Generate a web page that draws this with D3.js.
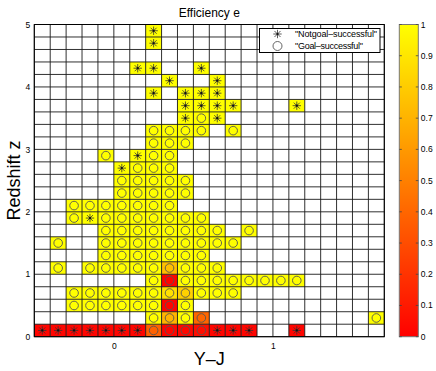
<!DOCTYPE html>
<html>
<head>
<meta charset="utf-8">
<title>Efficiency e</title>
<script src="https://d3js.org/d3.v7.min.js"></script>
<style>
  body, html { margin: 0; padding: 0; background: #fff; }
  svg { display: block; font-family: "Liberation Sans", Arial, sans-serif; }
</style>
</head>
<body>
<svg id="chart" width="436" height="371"></svg>
<script>
// binning of the map
const yjDomain = [-0.5, 1.7];
const zDomain = [0, 5];
const binW = 0.1, binH = 0.2;
const xTickValues = [0, 1];
const yTickValues = [0, 1, 2, 3, 4, 5];
const cbarTicks = [0, 0.1, 0.2, 0.3, 0.4, 0.5, 0.6, 0.7, 0.8, 0.9, 1];
const legendLabels = ['"Notgoal\u2013successful"', '"Goal\u2013successful"'];

// cells [Y-J centre, z centre, efficiency] : "Goal-successful" (circle)
const goalCells = [
  [0.25, 0.1, 0.38], [0.35, 0.1, 0.02], [0.45, 0.1, 0.03], [0.55, 0.1, 0.05],
  [0.25, 0.3, 1], [0.35, 0.3, 0.7], [0.45, 0.3, 1], [0.55, 0.3, 0.4], [1.65, 0.3, 1],
  [-0.25, 0.5, 1], [-0.15, 0.5, 1], [-0.05, 0.5, 1], [0.05, 0.5, 1], [0.15, 0.5, 1], [0.25, 0.5, 1],
  [0.35, 0.5, 0.02], [0.45, 0.5, 1],
  [-0.25, 0.7, 1], [-0.15, 0.7, 1], [-0.05, 0.7, 1], [0.05, 0.7, 1], [0.15, 0.7, 1], [0.25, 0.7, 1],
  [0.35, 0.7, 0.88], [0.45, 0.7, 0.82], [0.55, 0.7, 1], [0.65, 0.7, 1], [0.75, 0.7, 1],
  [0.25, 0.9, 1], [0.35, 0.9, 0.02], [0.45, 0.9, 1], [0.55, 0.9, 1], [0.65, 0.9, 1], [0.75, 0.9, 1],
  [0.85, 0.9, 1], [0.95, 0.9, 1], [1.05, 0.9, 1], [1.15, 0.9, 1],
  [-0.35, 1.1, 1], [-0.15, 1.1, 1], [-0.05, 1.1, 1], [0.05, 1.1, 1], [0.15, 1.1, 1], [0.25, 1.1, 1],
  [0.35, 1.1, 0.75], [0.45, 1.1, 1], [0.55, 1.1, 1], [0.65, 1.1, 1],
  [-0.05, 1.3, 1], [0.05, 1.3, 1], [0.15, 1.3, 1], [0.25, 1.3, 1], [0.35, 1.3, 1], [0.45, 1.3, 1], [0.55, 1.3, 1],
  [-0.35, 1.5, 1], [-0.05, 1.5, 1], [0.05, 1.5, 1], [0.15, 1.5, 1], [0.25, 1.5, 1], [0.35, 1.5, 1],
  [0.45, 1.5, 1], [0.55, 1.5, 1], [0.65, 1.5, 1], [0.75, 1.5, 1],
  [-0.05, 1.7, 1], [0.05, 1.7, 1], [0.15, 1.7, 1], [0.25, 1.7, 1], [0.35, 1.7, 1], [0.45, 1.7, 1],
  [0.55, 1.7, 1], [0.65, 1.7, 1], [0.85, 1.7, 1],
  [-0.25, 1.9, 1], [-0.05, 1.9, 1], [0.05, 1.9, 1], [0.15, 1.9, 1], [0.25, 1.9, 1], [0.35, 1.9, 1],
  [0.45, 1.9, 1], [0.55, 1.9, 1],
  [-0.25, 2.1, 1], [-0.15, 2.1, 1], [-0.05, 2.1, 1], [0.05, 2.1, 1], [0.15, 2.1, 1], [0.25, 2.1, 1], [0.35, 2.1, 1],
  [0.05, 2.3, 1], [0.15, 2.3, 1], [0.25, 2.3, 1], [0.35, 2.3, 1], [0.45, 2.3, 1],
  [0.05, 2.5, 1], [0.15, 2.5, 1], [0.25, 2.5, 1], [0.35, 2.5, 1], [0.45, 2.5, 1],
  [0.15, 2.7, 1], [0.25, 2.7, 1], [0.35, 2.7, 1],
  [-0.05, 2.9, 1], [0.25, 2.9, 1], [0.35, 2.9, 1],
  [0.25, 3.1, 1], [0.35, 3.1, 1], [0.45, 3.1, 1],
  [0.25, 3.3, 1], [0.35, 3.3, 1], [0.45, 3.3, 1], [0.55, 3.3, 1], [0.75, 3.3, 1],
  [0.55, 3.5, 1]
];

// cells [Y-J centre, z centre, efficiency] : "Notgoal-successful" (asterisk)
const notgoalCells = [
  [-0.45, 0.1, 0.02], [-0.35, 0.1, 0.02], [-0.25, 0.1, 0.02], [-0.15, 0.1, 0.02], [-0.05, 0.1, 0.02],
  [0.05, 0.1, 0.02], [0.15, 0.1, 0.02], [0.65, 0.1, 0.02], [0.75, 0.1, 0.02], [0.85, 0.1, 0.02], [1.15, 0.1, 0.02],
  [-0.15, 1.9, 1],
  [0.05, 2.7, 1],
  [0.15, 2.9, 1],
  [0.45, 3.5, 1], [0.65, 3.5, 1],
  [0.45, 3.7, 1], [0.55, 3.7, 1], [0.65, 3.7, 1], [0.75, 3.7, 1], [1.15, 3.7, 1],
  [0.25, 3.9, 1], [0.45, 3.9, 1], [0.55, 3.9, 1], [0.65, 3.9, 1],
  [0.35, 4.1, 1], [0.65, 4.1, 1],
  [0.15, 4.3, 1], [0.25, 4.3, 1], [0.55, 4.3, 1],
  [0.25, 4.7, 1],
  [0.25, 4.9, 1]
];

const svg = d3.select("#chart");
const pLeft = 34.3, pRight = 384.3, pTop = 24.5, pBottom = 336.7;

const x = d3.scaleLinear().domain(yjDomain).range([pLeft, pRight]);
const y = d3.scaleLinear().domain(zDomain).range([pBottom, pTop]);

// MATLAB "autumn" colormap: red -> yellow
const color = v => d3.rgb(255, Math.round(255 * v), 0).toString();

const plot = svg.append("g");

// coloured cells
const allCells = goalCells.map(d => ({yj: d[0], z: d[1], e: d[2], type: "goal"}))
  .concat(notgoalCells.map(d => ({yj: d[0], z: d[1], e: d[2], type: "notgoal"})));

plot.append("g").selectAll("rect")
  .data(allCells)
  .join("rect")
  .attr("x", d => x(d.yj - binW / 2))
  .attr("y", d => y(d.z + binH / 2))
  .attr("width", d => x(d.yj + binW / 2) - x(d.yj - binW / 2))
  .attr("height", d => y(d.z - binH / 2) - y(d.z + binH / 2))
  .attr("fill", d => color(d.e));

// grid lines over cells
const nCols = Math.round((yjDomain[1] - yjDomain[0]) / binW);
const nRows = Math.round((zDomain[1] - zDomain[0]) / binH);
const grid = plot.append("g").attr("stroke", "#1a1a1a").attr("stroke-width", 0.9);
grid.selectAll("line.v")
  .data(d3.range(nCols + 1).map(i => yjDomain[0] + i * binW))
  .join("line")
  .attr("class", "v")
  .attr("x1", d => x(d)).attr("x2", d => x(d))
  .attr("y1", pTop).attr("y2", pBottom);
grid.selectAll("line.h")
  .data(d3.range(nRows + 1).map(i => zDomain[0] + i * binH))
  .join("line")
  .attr("class", "h")
  .attr("y1", d => y(d)).attr("y2", d => y(d))
  .attr("x1", pLeft).attr("x2", pRight);

// marker shapes
function asterisk(sel, r) {
  const a = r * 0.72;
  sel.append("path")
    .attr("d", `M${-r},0H${r}M0,${-r}V${r}M${-a},${-a}L${a},${a}M${-a},${a}L${a},${-a}`)
    .attr("stroke", "#333").attr("stroke-width", 0.8).attr("fill", "none");
  sel.append("circle").attr("r", 1.1).attr("fill", "#111");
}
function ring(sel, r) {
  sel.append("circle").attr("r", r)
    .attr("fill", "none").attr("stroke", "#555").attr("stroke-width", 0.9);
}

plot.append("g").selectAll("g")
  .data(allCells)
  .join("g")
  .attr("transform", d => `translate(${x(d.yj)},${y(d.z)})`)
  .each(function(d) {
    if (d.type === "goal") ring(d3.select(this), 4.3);
    else asterisk(d3.select(this), 4.2);
  });

// frame
plot.append("rect")
  .attr("x", pLeft).attr("y", pTop)
  .attr("width", pRight - pLeft).attr("height", pBottom - pTop)
  .attr("fill", "none").attr("stroke", "#000").attr("stroke-width", 1);

// axes
const xAxis = svg.append("g")
  .attr("transform", `translate(0,${pBottom})`)
  .call(d3.axisBottom(x).tickValues(xTickValues).tickFormat(d3.format("d")).tickSize(0).tickPadding(6));
const yAxis = svg.append("g")
  .attr("transform", `translate(${pLeft},0)`)
  .call(d3.axisLeft(y).tickValues(yTickValues).tickFormat(d3.format("d")).tickSize(0).tickPadding(4));
[xAxis, yAxis].forEach(a => {
  a.select(".domain").remove();
  a.selectAll("text").attr("font-size", 8.5).attr("fill", "#000")
    .attr("font-family", "Liberation Sans, Arial, sans-serif");
});

// titles
svg.append("text")
  .attr("x", (pLeft + pRight) / 2).attr("y", 17)
  .attr("text-anchor", "middle").attr("font-size", 12)
  .text("Efficiency e");
svg.append("text")
  .attr("x", (pLeft + pRight) / 2).attr("y", 365)
  .attr("text-anchor", "middle").attr("font-size", 18)
  .text("Y\u2013J");
svg.append("text")
  .attr("transform", `translate(20,${(pTop + pBottom) / 2}) rotate(-90)`)
  .attr("text-anchor", "middle").attr("font-size", 18)
  .text("Redshift z");

// legend
const lg = svg.append("g").attr("transform", "translate(259.5,28.5)");
lg.append("rect").attr("width", 120.5).attr("height", 24)
  .attr("fill", "#fff").attr("stroke", "#000").attr("stroke-width", 1);
asterisk(lg.append("g").attr("transform", "translate(18,5.5)"), 4.2);
ring(lg.append("g").attr("transform", "translate(18,17.5)"), 4.5);
lg.selectAll("text.lab")
  .data(legendLabels)
  .join("text")
  .attr("class", "lab")
  .attr("x", 35.5).attr("y", (d, i) => 8.8 + i * 12)
  .attr("font-size", 9)
  .attr("textLength", (d, i) => i === 0 ? 82 : 68)
  .text(d => d);

// colorbar
const cbLeft = 399.3, cbRight = 418.3;
const cy = d3.scaleLinear().domain([0, 1]).range([pBottom, pTop]);
const defs = svg.append("defs");
const grad = defs.append("linearGradient").attr("id", "autumn")
  .attr("x1", 0).attr("y1", 1).attr("x2", 0).attr("y2", 0);
grad.selectAll("stop")
  .data(cbarTicks)
  .join("stop")
  .attr("offset", d => d)
  .attr("stop-color", d => color(d));
svg.append("rect")
  .attr("x", cbLeft).attr("y", pTop)
  .attr("width", cbRight - cbLeft).attr("height", pBottom - pTop)
  .attr("fill", "url(#autumn)").attr("stroke", "#777").attr("stroke-width", 1);
const cb = svg.append("g");
cb.selectAll("line.l").data(cbarTicks).join("line").attr("class", "l")
  .attr("x1", cbLeft).attr("x2", cbLeft + 2.5)
  .attr("y1", d => cy(d)).attr("y2", d => cy(d))
  .attr("stroke", "#444").attr("stroke-width", 0.8);
cb.selectAll("line.r").data(cbarTicks).join("line").attr("class", "r")
  .attr("x1", cbRight - 2.5).attr("x2", cbRight)
  .attr("y1", d => cy(d)).attr("y2", d => cy(d))
  .attr("stroke", "#444").attr("stroke-width", 0.8);
cb.selectAll("text").data(cbarTicks).join("text")
  .attr("x", cbRight + 2.5).attr("y", d => cy(d) + 3)
  .attr("font-size", 8.5)
  .text(d => d3.format("~g")(d));
</script>
</body>
</html>
